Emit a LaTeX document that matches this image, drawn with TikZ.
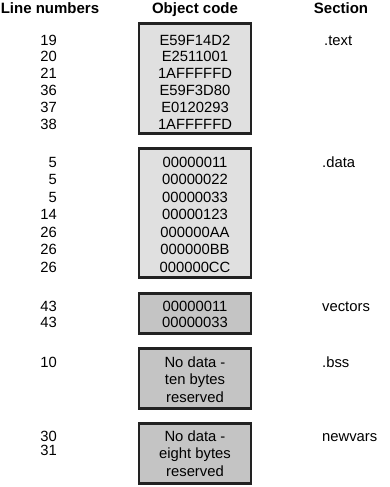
\documentclass[tikz,border=0pt]{standalone}
\usepackage{fontspec}
\setmainfont{Liberation Sans}
\usepackage{tikz}
\usetikzlibrary{positioning}
\definecolor{codefill}{RGB}{224,224,224}
\definecolor{bssfill}{RGB}{196,196,196}
\definecolor{edge}{RGB}{34,34,34}

\begin{document}
\begin{tikzpicture}[x=1pt, y=-1pt,
  secbox/.style={draw=edge, line width=2.6pt, minimum width=112pt, inner sep=0pt},
  txt/.style={font=\fontsize{14.8}{17.5}\selectfont, inner sep=0pt, text height=10.4pt, text depth=0pt},
  head/.style={font=\fontsize{15}{18}\selectfont\bfseries, inner sep=0pt, text height=10.8pt, text depth=0pt}]
  \useasboundingbox (0,0) rectangle (389,487);

  % Column headings
  \node[head] (hline) at (50,8) {Line numbers};
  \node[head] (hcode) at (195,8) {Object code};
  \node[head] (hsec) at (341,8) {Section};

  % .text section
  \node[secbox, fill=codefill, minimum height=110.4pt] (textbox) at (195,78.5) {};
  \foreach \code [count=\i] in {E59F14D2,E2511001,1AFFFFFD,E59F3D80,E0120293,1AFFFFFD}
    \node[txt] (tc\i) at (195,{40+16.8*(\i-1)}) {\code};
  \foreach \ln [count=\i] in {19,20,21,36,37,38}
    \node[txt, anchor=east] (tl\i) at (57,{40+16.8*(\i-1)}) {\ln};
  \node[txt, anchor=west] (stext) at (324,40) {.text};

  % .data section
  \node[secbox, fill=codefill, minimum height=129.4pt] (databox) at (195,213) {};
  \foreach \code [count=\i] in {00000011,00000022,00000033,00000123,000000AA,000000BB,000000CC}
    \node[txt] (dc\i) at (195,{162+17.5*(\i-1)}) {\code};
  \foreach \ln [count=\i] in {5,5,5,14,26,26,26}
    \node[txt, anchor=east] (dl\i) at (57,{162+17.5*(\i-1)}) {\ln};
  \node[txt, anchor=west] (sdata) at (322,162) {.data};

  % vectors section
  \node[secbox, fill=bssfill, minimum height=40.4pt] (vecbox) at (195,313.5) {};
  \foreach \code [count=\i] in {00000011,00000033}
    \node[txt] (vc\i) at (195,{306+16*(\i-1)}) {\code};
  \foreach \ln [count=\i] in {43,43}
    \node[txt, anchor=east] (vl\i) at (57,{306+16*(\i-1)}) {\ln};
  \node[txt, anchor=west] (svec) at (322,306) {vectors};

  % .bss section
  \node[secbox, fill=bssfill, minimum height=60.4pt] (bssbox) at (195,378.5) {};
  \foreach \code [count=\i] in {No data -,ten bytes,reserved}
    \node[txt] (bc\i) at (195,{362+17.5*(\i-1)}) {\code};
  \node[txt, anchor=east] (bl1) at (57,362) {10};
  \node[txt, anchor=west] (sbss) at (322,362) {.bss};

  % newvars section
  \node[secbox, fill=bssfill, minimum height=60.4pt] (newbox) at (195,453.5) {};
  \foreach \code [count=\i] in {No data -,eight bytes,reserved}
    \node[txt] (nc\i) at (195,{436+17.5*(\i-1)}) {\code};
  \foreach \ln [count=\i] in {30,31}
    \node[txt, anchor=east] (nl\i) at (57,{436+14.5*(\i-1)}) {\ln};
  \node[txt, anchor=west] (snew) at (322,436) {newvars};
\end{tikzpicture}
\end{document}
